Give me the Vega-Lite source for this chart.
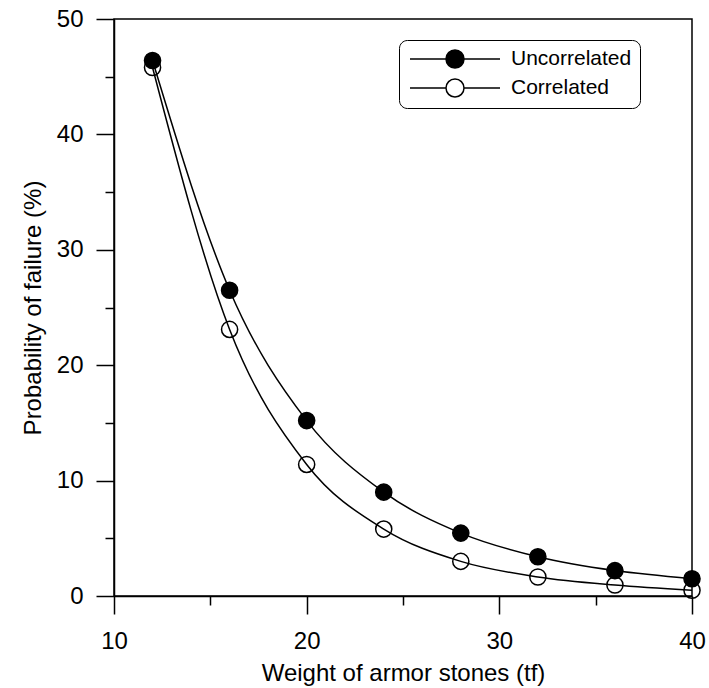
{
  "$schema": "https://vega.github.io/schema/vega-lite/v6.json",
  "autosize": {"type": "none"},
  "width": 578,
  "height": 577,
  "padding": {"left": 114, "top": 19, "right": 17, "bottom": 92},
  "background": "white",
  "config": {
    "font": "Liberation Sans",
    "view": {"stroke": "black", "strokeWidth": 1.5},
    "axis": {
      "domainColor": "black", "domainWidth": 1.5, "tickColor": "black", "tickWidth": 1.5,
      "labelColor": "black", "titleColor": "black", "labelFont": "Liberation Sans", "titleFont": "Liberation Sans",
      "labelFontSize": 24, "titleFontSize": 24, "titleFontWeight": "normal", "grid": false
    },
    "legend": {
      "orient": "none", "legendX": 285, "legendY": 21, "strokeColor": "black", "cornerRadius": 8,
      "padding": 8, "fillColor": "white", "title": null,
      "symbolType": "M-0.8,0H2.8M4.6,0H8.2M2.8,0A0.9,0.9 0 1,1 4.6,0A0.9,0.9 0 1,1 2.8,0Z",
      "symbolSize": 400, "symbolStrokeColor": "black", "symbolStrokeWidth": 1.5,
      "labelFontSize": 21, "labelFont": "Liberation Sans", "labelColor": "black", "labelOffset": 82, "rowPadding": 5
    }
  },
  "data": {"values": [
    {"w": 12, "p": 46.4, "series": "Uncorrelated"},
    {"w": 16, "p": 26.5, "series": "Uncorrelated"},
    {"w": 20, "p": 15.2, "series": "Uncorrelated"},
    {"w": 24, "p": 9.0, "series": "Uncorrelated"},
    {"w": 28, "p": 5.45, "series": "Uncorrelated"},
    {"w": 32, "p": 3.4, "series": "Uncorrelated"},
    {"w": 36, "p": 2.2, "series": "Uncorrelated"},
    {"w": 40, "p": 1.5, "series": "Uncorrelated"},
    {"w": 12, "p": 45.8, "series": "Correlated"},
    {"w": 16, "p": 23.1, "series": "Correlated"},
    {"w": 20, "p": 11.4, "series": "Correlated"},
    {"w": 24, "p": 5.8, "series": "Correlated"},
    {"w": 28, "p": 3.0, "series": "Correlated"},
    {"w": 32, "p": 1.65, "series": "Correlated"},
    {"w": 36, "p": 0.95, "series": "Correlated"},
    {"w": 40, "p": 0.5, "series": "Correlated"}
  ]},
  "encoding": {
    "x": {
      "field": "w", "type": "quantitative",
      "scale": {"domain": [10, 40], "nice": false, "zero": false},
      "axis": {
        "title": "Weight of armor stones (tf)",
        "values": [10, 15, 20, 25, 30, 35, 40],
        "labelExpr": "datum.value % 10 === 0 ? datum.label : ''",
        "tickSize": {"condition": {"test": "datum.value % 10 === 0", "value": 18}, "value": 9},
        "labelPadding": 15, "titlePadding": 8, "labelFlush": false
      }
    },
    "y": {
      "field": "p", "type": "quantitative",
      "scale": {"domain": [0, 50], "nice": false},
      "axis": {
        "title": "Probability of failure (%)",
        "values": [0, 5, 10, 15, 20, 25, 30, 35, 40, 45, 50],
        "labelExpr": "datum.value % 10 === 0 ? datum.label : ''",
        "tickSize": {"condition": {"test": "datum.value % 10 === 0", "value": 18}, "value": 9},
        "labelPadding": 13, "titlePadding": 11, "labelFlush": false
      }
    }
  },
  "layer": [
    {
      "mark": {"type": "line", "interpolate": "monotone", "color": "black", "strokeWidth": 1.5},
      "encoding": {"detail": {"field": "series"}}
    },
    {
      "mark": {"type": "point", "shape": "circle", "filled": true, "stroke": "black", "strokeWidth": 1.5, "size": 260, "opacity": 1},
      "encoding": {
        "fill": {
          "field": "series", "type": "nominal",
          "scale": {"domain": ["Uncorrelated", "Correlated"], "range": ["black", "transparent"]},
          "legend": {"encode": {"legend": {"update": {"strokeWidth": {"value": 1.5}}}}}
        }
      }
    }
  ]
}
